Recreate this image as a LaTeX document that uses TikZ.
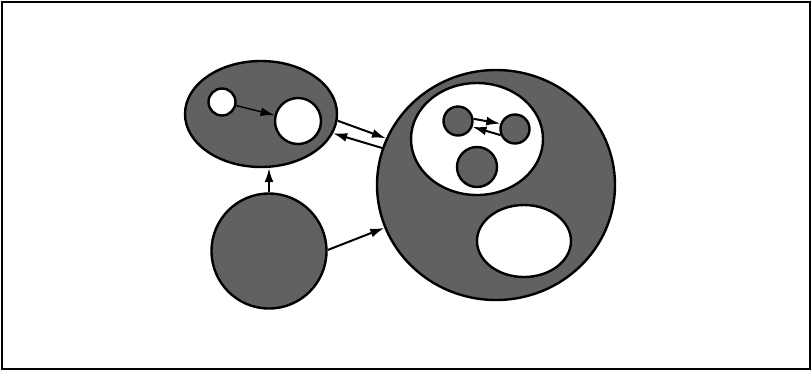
\documentclass[tikz,border=0pt]{standalone}
\usepackage{tikz}
\usetikzlibrary{shapes.geometric, arrows.meta}

\tikzset{
    dark/.style={draw, line width=1.2pt, fill=black!62, inner sep=0pt},
    hole/.style={draw, line width=1.2pt, fill=white, inner sep=0pt},
    link/.style={-{Latex[length=7pt, width=4.5pt]}, line width=1pt},
}

\begin{document}
\begin{tikzpicture}[x=0.5pt, y=-0.5pt]
        \useasboundingbox (0, 0) rectangle (812, 371);

        % Frame
        \draw[line width=1.1pt] (2, 2) rectangle (810, 369);

        % Upper-left object
        \node[dark, ellipse, minimum width=76pt, minimum height=53pt] (ws) at (261, 114) {};
        \node[hole, circle, minimum size=13.5pt] (wa) at (222, 102) {};
        \node[hole, circle, minimum size=23pt] (wb) at (298, 121) {};
        \draw[link, line width=0.7pt] (wa) -- (wb);

        % Lower object
        \node[dark, circle, minimum size=57.5pt] (low) at (269, 251) {};

        % Big object
        \node[dark, ellipse, minimum width=119pt, minimum height=115pt] (big) at (496, 185) {};
        \node[hole, ellipse, minimum width=66pt, minimum height=56pt] (top) at (477, 139) {};
        \node[hole, ellipse, minimum width=47pt, minimum height=36pt] (bot) at (524, 241) {};

        % Small objects inside
        \node[dark, circle, minimum size=14.5pt] (ca) at (458, 121) {};
        \node[dark, circle, minimum size=14.5pt] (cb) at (515, 129) {};
        \node[dark, circle, minimum size=20pt] (cc) at (477, 167) {};
        \draw[link] (ca.8) -- (cb.160);
        \draw[link] (cb.203) -- (ca.-22);

        % Links
        \draw[link] (ws.-5) -- (big.157);
        \draw[link] (big.162) -- (ws.-15);
        \draw[link] (low.north) -- (low.north |- ws.south);
        \draw[link] (low.1) -- (big.201);
    \end{tikzpicture}
\end{document}
